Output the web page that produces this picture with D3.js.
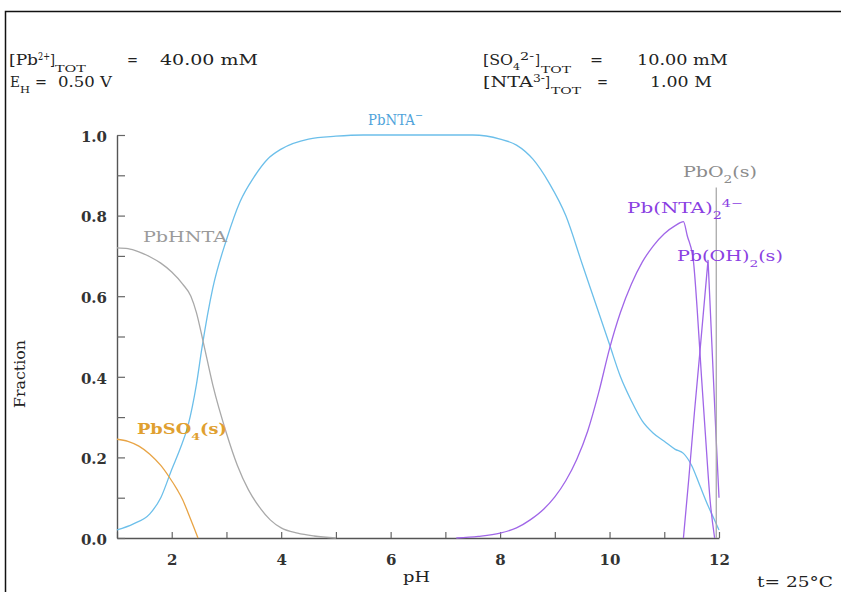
<!DOCTYPE html>
<html>
<head>
<meta charset="utf-8">
<script src="https://cdn.jsdelivr.net/npm/d3@7"></script>
<style>
  body { margin: 0; background: #fff; }
  svg { display: block; }
  text { white-space: pre; }
</style>
</head>
<body>
<svg id="chart" width="841" height="592"></svg>
<script>
// ---- axis ticks ----
const pHTicks = [1, 2, 3, 4, 5, 6, 7, 8, 9, 10, 11, 12];
const fracTicks = [0.0, 0.1, 0.2, 0.3, 0.4, 0.5, 0.6, 0.7, 0.8, 0.9, 1.0];

// ---- conditions ----
const pbTotal = "40.00 mM";
const ehValue = "0.50 V";
const so4Total = "10.00 mM";
const ntaTotal = "1.00 M";
const temperature = "t= 25°C";

// ---- species fractions vs pH ----
const pbntaPH   = [1.0, 1.3, 1.6, 1.8, 2.0, 2.15, 2.3, 2.45, 2.55, 2.75, 3.0, 3.25, 3.5, 3.75, 4.0, 4.5, 5.0, 5.5, 7.5, 8.0, 8.3, 8.6, 8.9, 9.2, 9.5, 9.8, 10.0, 10.2, 10.4, 10.6, 10.8, 11.0, 11.2, 11.35, 11.5, 11.65, 11.8, 11.9, 12.0];
const pbntaFrac = [0.02, 0.035, 0.06, 0.10, 0.17, 0.22, 0.28, 0.38, 0.47, 0.62, 0.74, 0.835, 0.895, 0.94, 0.965, 0.99, 0.997, 1.0, 1.0, 0.99, 0.975, 0.94, 0.88, 0.80, 0.68, 0.56, 0.48, 0.40, 0.34, 0.29, 0.26, 0.24, 0.22, 0.21, 0.18, 0.13, 0.08, 0.05, 0.02];

const pbhntaPH   = [1.0, 1.2, 1.4, 1.6, 1.8, 2.0, 2.2, 2.35, 2.45, 2.57, 2.75, 3.0, 3.2, 3.4, 3.6, 3.8, 4.0, 4.3, 4.6, 5.0];
const pbhntaFrac = [0.72, 0.718, 0.71, 0.698, 0.682, 0.66, 0.63, 0.60, 0.56, 0.49, 0.38, 0.26, 0.18, 0.12, 0.077, 0.045, 0.025, 0.012, 0.005, 0.0];

const pbso4PH   = [1.0, 1.2, 1.4, 1.6, 1.8, 1.95, 2.1, 2.2, 2.3, 2.4, 2.48];
const pbso4Frac = [0.245, 0.24, 0.228, 0.208, 0.18, 0.152, 0.12, 0.095, 0.062, 0.028, 0.0];

const pbnta2PH   = [7.2, 7.6, 8.0, 8.3, 8.55, 8.8, 9.0, 9.2, 9.4, 9.6, 9.8, 10.0, 10.2, 10.4, 10.6, 10.8, 11.0, 11.2, 11.35, 11.42, 11.53, 11.6, 11.68, 11.75, 11.84, 11.92];
const pbnta2Frac = [0.0, 0.004, 0.012, 0.025, 0.045, 0.072, 0.102, 0.142, 0.195, 0.265, 0.36, 0.47, 0.56, 0.63, 0.685, 0.725, 0.755, 0.775, 0.785, 0.75, 0.69, 0.57, 0.40, 0.26, 0.09, 0.0];

const pboh2PH   = [11.35, 11.45, 11.55, 11.65, 11.8, 11.87, 11.94, 12.0];
const pboh2Frac = [0.0, 0.15, 0.31, 0.46, 0.69, 0.48, 0.27, 0.10];

const pbo2PH   = [11.95, 11.95];
const pbo2Frac = [0.0, 0.87];

// ---- drawing ----
const SERIF = "'DejaVu Serif', serif";
const svg = d3.select("#chart");

const x = d3.scaleLinear().domain([1, 12]).range([117, 719]);
const y = d3.scaleLinear().domain([0, 1]).range([538, 135]);

// outer frame
svg.append("rect")
  .attr("x", 5.5).attr("y", 11.5).attr("width", 900).attr("height", 700)
  .attr("fill", "none").attr("stroke", "#111").attr("stroke-width", 1.5);

// axes with inward ticks
const xAxis = d3.axisBottom(x).tickValues(pHTicks).tickSize(-6).tickSizeOuter(0).tickPadding(16)
  .tickFormat(d => d % 2 === 0 ? d : "");
const yAxis = d3.axisLeft(y).tickValues(fracTicks).tickSize(-8).tickSizeOuter(0).tickPadding(10)
  .tickFormat(d => (Math.round(d * 10) % 2 === 0) ? d3.format(".1f")(d) : "");

function styleAxis(g) {
  g.select(".domain").attr("stroke", "#555").attr("stroke-width", 1.4);
  g.selectAll(".tick line").attr("stroke", "#666").attr("stroke-width", 1.2);
  g.selectAll(".tick text").attr("font-family", SERIF).attr("font-size", 15)
    .attr("font-weight", "bold").attr("fill", "#333");
}
svg.append("g").attr("transform", `translate(0,${y(0)})`).call(xAxis).call(styleAxis);
svg.append("g").attr("transform", `translate(${x(1)},0)`).call(yAxis).call(styleAxis)
  .selectAll(".tick text").attr("dy", "0.42em");

// curves
const series = [
  { ph: pbntaPH,  fr: pbntaFrac,  color: "#6cbfea", curve: d3.curveMonotoneX },
  { ph: pbhntaPH, fr: pbhntaFrac, color: "#a9a9a9", curve: d3.curveMonotoneX },
  { ph: pbso4PH,  fr: pbso4Frac,  color: "#e8a445", curve: d3.curveMonotoneX },
  { ph: pbnta2PH, fr: pbnta2Frac, color: "#a066e8", curve: d3.curveMonotoneX },
  { ph: pboh2PH,  fr: pboh2Frac,  color: "#a066e8", curve: d3.curveLinear },
  { ph: pbo2PH,   fr: pbo2Frac,   color: "#a9a9a9", curve: d3.curveLinear }
];
series.forEach(s => {
  const pts = s.ph.map((p, i) => [p, s.fr[i]]);
  svg.append("path")
    .attr("d", d3.line().x(d => x(d[0])).y(d => y(d[1])).curve(s.curve)(pts))
    .attr("fill", "none").attr("stroke", s.color).attr("stroke-width", 1.3);
});

// a text run stretched horizontally to a set width
function fitText(parent, str, px, py, size, width, color, weight, rotate) {
  const g = parent.append("g")
    .attr("transform", `translate(${px},${py})` + (rotate ? ` rotate(${rotate})` : ""));
  const inner = g.append("g");
  const t = inner.append("text")
    .attr("font-family", SERIF).attr("font-size", size)
    .attr("font-weight", weight || "normal").attr("fill", color).text(str);
  if (width) {
    const w = t.node().getComputedTextLength();
    inner.attr("transform", `scale(${width / w},1)`);
  }
  return t;
}

// rich text with sub/superscripts, stretched to a set width
function rich(parent, o) {
  const g = parent.append("g").attr("transform", `translate(${o.x},${o.y})`);
  const inner = g.append("g");
  const t = inner.append("text")
    .attr("font-family", SERIF).attr("font-size", o.size)
    .attr("font-weight", o.weight || "normal").attr("fill", o.color);
  let shift = 0;
  o.parts.forEach(p => {
    let str = p, target = 0, fs = o.size;
    if (typeof p === "object") {
      fs = o.size * 0.72;
      if (p.sub !== undefined) { str = p.sub; target = o.size * 0.4; }
      else { str = p.sup; target = -o.size * 0.42; }
    }
    t.append("tspan").attr("font-size", fs).attr("dy", target - shift).text(str);
    shift = target;
  });
  const w = t.node().getComputedTextLength();
  inner.attr("transform", `scale(${o.width / w},1)`);
}

// header conditions: [text, x, baseline, font size, width]
const headerRuns = [
  ["[Pb", 9, 65, 14, 29], ["2+", 38, 60, 11, 12], ["]", 50, 65, 14, 5], ["TOT", 55, 72, 10, 31],
  ["=", 127, 65, 14, 11], [pbTotal, 160, 65, 14, 98],
  ["E", 10, 87, 14, 10], ["H", 20, 93, 10, 10], ["=", 35, 87, 14, 12], [ehValue, 58, 87, 14, 54],
  ["[SO", 483, 65, 14, 30], ["4", 513, 70, 10, 7], ["2-", 520, 60, 11, 14], ["]", 535, 65, 14, 5],
  ["TOT", 541, 73, 10, 30], ["=", 590, 65, 14, 13], [so4Total, 637, 65, 14, 91],
  ["[NTA", 483, 87, 14, 50], ["3-", 533, 82, 11, 12], ["]", 545, 87, 14, 5],
  ["TOT", 551, 94, 10, 30], ["=", 597, 87, 14, 11], [ntaTotal, 650, 87, 14, 62]
];
headerRuns.forEach(r => fitText(svg, r[0], r[1], r[2], r[3], r[4], "#222"));

// axis titles
fitText(svg, "pH", 403, 582, 15, 27, "#222");
fitText(svg, "Fraction", 25, 408, 15, 68, "#222", "normal", -90);
fitText(svg, temperature, 757, 587, 14, 76, "#222");

// species labels
rich(svg, { x: 368, y: 125, width: 55,  size: 14, color: "#4fa3da", parts: ["PbNTA", { sup: "−" }] });
rich(svg, { x: 143, y: 242, width: 84,  size: 14, color: "#9a9a9a", parts: ["PbHNTA"] });
rich(svg, { x: 137, y: 434, width: 90,  size: 14, color: "#e0a030", weight: "bold", parts: ["PbSO", { sub: "4" }, "(s)"] });
rich(svg, { x: 683, y: 177, width: 74,  size: 14, color: "#8c8c8c", parts: ["PbO", { sub: "2" }, "(s)"] });
rich(svg, { x: 627, y: 213, width: 116, size: 14, color: "#8a40e2", parts: ["Pb(NTA)", { sub: "2" }, { sup: "4−" }] });
rich(svg, { x: 677, y: 261, width: 106, size: 14, color: "#8a40e2", parts: ["Pb(OH)", { sub: "2" }, "(s)"] });
</script>
</body>
</html>
